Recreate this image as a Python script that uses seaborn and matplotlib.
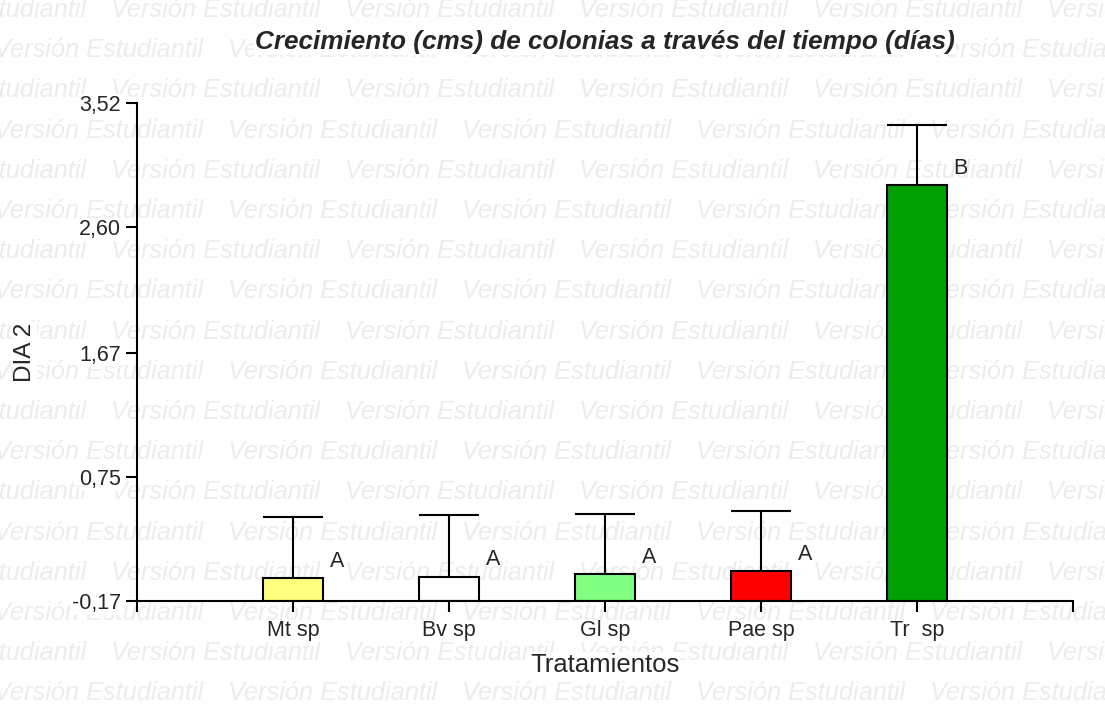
import matplotlib
matplotlib.use("Agg")
import matplotlib.pyplot as plt
import numpy as np
import pandas as pd
import seaborn as sns

# ── data ─────────────────────────────────────────────────────────────────────
tratamientos = ["Mt sp", "Bv sp", "Gl sp", "Pae sp", "Tr  sp"]
medias       = [0.00, 0.01, 0.03, 0.05, 2.91]
error_sup    = [0.455, 0.455, 0.445, 0.447, 0.45]
letras       = ["A", "A", "A", "A", "B"]
colores      = ["#FFFF80", "#FFFFFF", "#80FF80", "#FF0000", "#00A000"]
y_ticks      = [-0.17, 0.75, 1.67, 2.60, 3.52]
y_tick_lbls  = ["-0,17", "0,75", "1,67", "2,60", "3,52"]

Y_MIN, Y_MAX = -0.17, 3.52
BAR_W = 0.38
WHITE_BOX = dict(facecolor="white", edgecolor="none", pad=0.5)

sns.set_style("ticks")
plt.rcParams["font.family"] = ["Liberation Sans", "DejaVu Sans"]

df = pd.DataFrame({"trat": tratamientos, "media": medias})

fig = plt.figure(figsize=(11.05, 7.09), dpi=100)
ax = fig.add_axes([0.124, 0.1523, 0.847, 0.7024])
ax.patch.set_alpha(0)

# ── watermark ────────────────────────────────────────────────────────────────
W, H = 1105, 709
for i in range(18):
    y_px = 10 + 40.2 * i
    x0 = -6 if i % 2 else -123
    for k in range(7):
        x_px = x0 + 234 * k
        fig.text(x_px / W, 1 - y_px / H, "Versión Estudiantil", fontsize=18.3,
                 style="italic", color="#ececec", ha="left", va="center",
                 zorder=-5)

# ── bars ─────────────────────────────────────────────────────────────────────
sns.barplot(data=df, x="trat", y="media", hue="trat", palette=colores,
            legend=False, errorbar=None, width=BAR_W, edgecolor="black",
            linewidth=1.5, saturation=1, ax=ax, zorder=2)

# bars start at the axis minimum, as in InfoStat
for bar in ax.patches:
    top = bar.get_y() + bar.get_height()
    bar.set_y(Y_MIN)
    bar.set_height(top - Y_MIN)

x = np.arange(len(tratamientos))
tops = np.array(medias) + np.array(error_sup)
ax.vlines(x, medias, tops, color="black", lw=1.5, zorder=3)
ax.hlines(tops, x - BAR_W / 2, x + BAR_W / 2, color="black", lw=1.5, zorder=3)

for xi, m, l in zip(x, medias, letras):
    ax.text(xi + 0.28, m + 0.125, l, fontsize=15.5, ha="center", va="center")

# ── axes ─────────────────────────────────────────────────────────────────────
ax.set_xlim(-1, len(tratamientos))
ax.set_ylim(Y_MIN, Y_MAX)
ax.set_xticks(np.arange(-1, len(tratamientos) + 1))
ax.set_xticklabels([""] + tratamientos + [""])
ax.set_yticks(y_ticks)
ax.set_yticklabels(y_tick_lbls)
ax.tick_params(axis="both", labelsize=15.5, width=1.5, length=8, color="black")
ax.tick_params(axis="x", pad=6)
sns.despine(ax=ax)
for s in ("left", "bottom"):
    ax.spines[s].set_linewidth(1.5)
    ax.spines[s].set_color("black")
for lbl in ax.get_xticklabels() + ax.get_yticklabels():
    lbl.set_bbox(WHITE_BOX)

ax.set_xlabel("Tratamientos", fontsize=18.5, bbox=WHITE_BOX)
ax.set_ylabel("DIA 2", fontsize=17.5, bbox=WHITE_BOX)
ax.xaxis.set_label_coords(0.5, -0.104)
ax.yaxis.set_label_coords(-0.108, 0.5)

fig.text(0.5475, 1 - 42 / H, "Crecimiento (cms) de colonias a través del tiempo (días)",
         fontsize=18.8, fontweight="bold", style="italic", ha="center", va="center",
         bbox=dict(facecolor="white", edgecolor="none", pad=1))

fig.savefig("out.png", dpi=100)
